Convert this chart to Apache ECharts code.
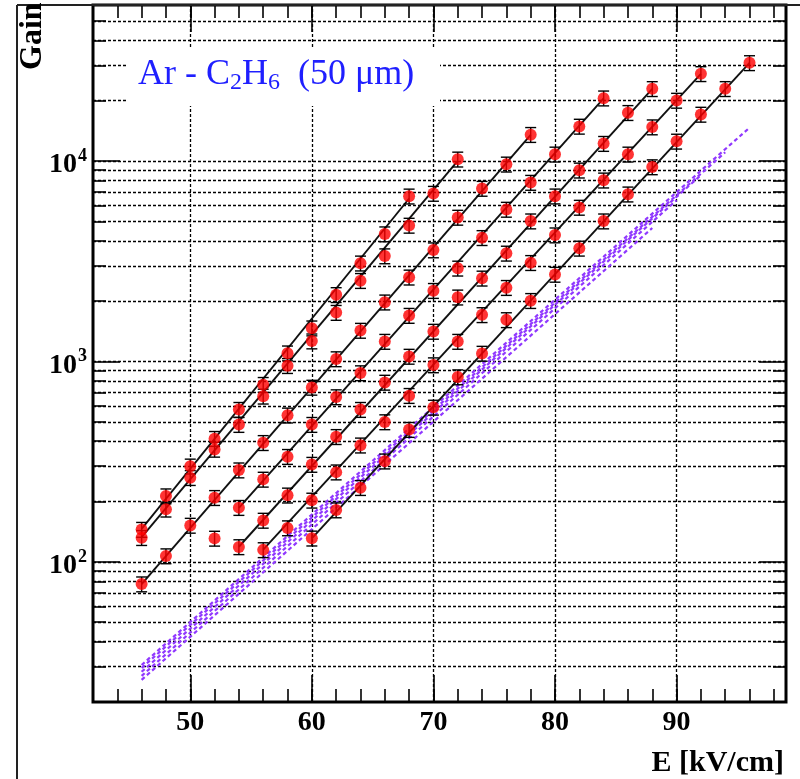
<!DOCTYPE html>
<html>
<head>
<meta charset="utf-8">
<script src="https://cdn.jsdelivr.net/npm/echarts@6/dist/echarts.min.js"></script>
<style>
  html, body { margin: 0; padding: 0; background: #fff; }
  #chart { width: 800px; height: 779px; }
</style>
</head>
<body>
<div id="chart"></div>
<script>
// Gas gain versus drift field, Ar - C2H6, 50 um gap.
// Seven measurement runs (points with error bars) with exponential fits,
// and simulated gain curves (dashed).

const runA_E    = [46, 48, 50, 52, 54, 56, 58, 60, 62, 64, 66, 68];
const runA_gain = [145, 213, 300, 412, 575, 766, 1100, 1466, 2150, 3090, 4320, 6670];

const runB_E    = [46, 48, 50, 52, 54, 56, 58, 60, 62, 64, 66, 68, 70, 72];
const runB_gain = [132, 183, 263, 364, 484, 670, 952, 1263, 1753, 2529, 3357, 4771, 6883, 10200];

const runC_E    = [46, 48, 50, 52, 54, 56, 58, 60, 62, 64, 66, 68, 70, 72, 74, 76, 78];
const runC_gain = [77.5, 107, 152, 209, 287, 393, 539, 742, 1029, 1427, 1975, 2630, 3595, 5229, 7291, 9629, 13530];

const runD_E    = [52, 54, 56, 58, 60, 62, 64, 66, 68, 70, 72, 74, 76, 78, 80, 82, 84];
const runD_gain = [131, 186.5, 258, 335, 484, 665, 876, 1257, 1694, 2255, 2915, 4140, 5731, 7808, 10800, 14880, 20580];

const runE_E    = [54, 56, 58, 60, 62, 64, 66, 68, 70, 72, 74, 76, 78, 80, 82, 84, 86, 88];
const runE_gain = [118.8, 161, 215, 306, 421, 575, 786, 1059, 1411, 2091, 2599, 3462, 5012, 6674, 8990, 12210, 17410, 22920];

const runF_E    = [56, 58, 60, 62, 64, 66, 68, 70, 72, 74, 76, 78, 80, 82, 84, 86, 88, 90, 92];
const runF_gain = [114.8, 147.6, 202.8, 280.4, 382, 499, 675, 960, 1257, 1708, 2334, 3108, 4269, 5864, 8017, 10800, 14765, 20045, 27220];

const runG_E    = [60, 62, 64, 66, 68, 70, 72, 74, 76, 78, 80, 82, 84, 86, 88, 90, 92, 94, 96];
const runG_gain = [131.2, 181.4, 234.5, 318, 457, 590, 836, 1096, 1612, 2009, 2716, 3666, 5012, 6829, 9336, 12531, 17073, 22922, 30870];

// exponential fit of each run: gain at the first and last fitted field
const fitA_E = [46, 68], fitA_gain = [146, 6500];
const fitB_E = [46, 72], fitB_gain = [133, 10000];
const fitC_E = [46, 78], fitC_gain = [77.5, 13500];
const fitD_E = [54, 84], fitD_gain = [186, 20500];
const fitE_E = [54, 88], fitE_gain = [119, 22900];
const fitF_E = [56, 92], fitF_gain = [115, 27200];
const fitG_E = [60, 96], fitG_gain = [131, 30900];

// simulated gain curves
const sim1_E = [46, 96], sim1_gain = [30.6, 14660];
const sim2_E = [46, 94], sim2_gain = [29.6, 11050];
const sim3_E = [46, 92], sim3_gain = [28.3, 8490];
const sim4_E = [46, 90], sim4_gain = [27.0, 6370];
const sim5_E = [46, 88], sim5_gain = [25.8, 4630];

// relative uncertainty of each gain point
const GAIN_ERR = 0.085;

// axis ticks
const xMajorTicks = [50, 60, 70, 80, 90];
const yMajorTicks = [100, 1000, 10000];
const yMinorTicks = [30, 40, 50, 60, 70, 80, 90,
                     200, 300, 400, 500, 600, 700, 800, 900,
                     2000, 3000, 4000, 5000, 6000, 7000, 8000, 9000,
                     20000, 30000, 40000, 50000];

const SERIF = '"Liberation Serif", "DejaVu Serif", serif';

const runs = [
  [runA_E, runA_gain, fitA_E, fitA_gain],
  [runB_E, runB_gain, fitB_E, fitB_gain],
  [runC_E, runC_gain, fitC_E, fitC_gain],
  [runD_E, runD_gain, fitD_E, fitD_gain],
  [runE_E, runE_gain, fitE_E, fitE_gain],
  [runF_E, runF_gain, fitF_E, fitF_gain],
  [runG_E, runG_gain, fitG_E, fitG_gain]
];
const sims = [
  [sim1_E, sim1_gain], [sim2_E, sim2_gain], [sim3_E, sim3_gain],
  [sim4_E, sim4_gain], [sim5_E, sim5_gain]
];

const zip = (a, b) => a.map((v, i) => [v, b[i]]);

function renderErrorBar(params, api) {
  const x = api.value(0);
  const lo = api.coord([x, api.value(2)]);
  const hi = api.coord([x, api.value(3)]);
  const cap = 5.5;
  const style = { stroke: '#000', lineWidth: 1.4 };
  return {
    type: 'group',
    children: [
      { type: 'line', shape: { x1: lo[0], y1: lo[1], x2: hi[0], y2: hi[1] }, style: style },
      { type: 'line', shape: { x1: lo[0] - cap, y1: lo[1], x2: lo[0] + cap, y2: lo[1] }, style: style },
      { type: 'line', shape: { x1: hi[0] - cap, y1: hi[1], x2: hi[0] + cap, y2: hi[1] }, style: style }
    ]
  };
}

const gridLineStyle = { color: '#000', width: 1.3, type: [3, 2] };

const series = [];

// dotted grid
series.push({
  type: 'line',
  data: [],
  silent: true,
  z: 1,
  markLine: {
    silent: true,
    z: 1,
    animation: false,
    symbol: ['none', 'none'],
    label: { show: false },
    lineStyle: gridLineStyle,
    data: yMinorTicks.concat(yMajorTicks).map(v => ({ yAxis: v }))
      .concat(xMajorTicks.map(v => ({ xAxis: v })))
  }
});

sims.forEach(([e, g]) => {
  series.push({
    type: 'line',
    data: zip(e, g),
    symbol: 'none',
    silent: true,
    z: 2,
    lineStyle: { color: '#9038ff', width: 2.2, type: [4, 3] }
  });
});

runs.forEach(([e, g, fe, fg]) => {
  series.push({
    type: 'line',
    data: zip(fe, fg),
    symbol: 'none',
    silent: true,
    z: 3,
    lineStyle: { color: '#111', width: 1.9 }
  });
  series.push({
    type: 'custom',
    renderItem: renderErrorBar,
    data: e.map((v, i) => [v, g[i], g[i] * (1 - GAIN_ERR), g[i] * (1 + GAIN_ERR)]),
    encode: { x: 0, y: [1, 2, 3] },
    silent: true,
    z: 4
  });
  series.push({
    type: 'scatter',
    data: zip(e, g),
    symbol: 'circle',
    symbolSize: 12,
    silent: true,
    z: 5,
    itemStyle: { color: '#ff0000' }
  });
});

const tickStyle = { color: '#000', width: 1.6 };
const xBase = { type: 'value', min: 42, max: 99, axisLine: { show: false }, splitLine: { show: false } };
const yBase = { type: 'log', logBase: 10, min: 20, max: 60000, axisLine: { show: false }, splitLine: { show: false } };

const option = {
  animation: false,
  backgroundColor: '#fff',
  grid: {
    left: 93, right: 14, top: 5, bottom: 77,
    show: true, borderColor: '#000', borderWidth: 3, backgroundColor: '#fff'
  },
  xAxis: [
    Object.assign({}, xBase, { position: 'bottom', interval: 2,
      axisTick: { inside: true, length: 13, lineStyle: tickStyle },
      axisLabel: { show: false } }),
    Object.assign({}, xBase, { position: 'bottom',
      axisTick: { inside: true, length: 27, lineStyle: tickStyle, customValues: xMajorTicks },
      axisLabel: { customValues: xMajorTicks, margin: 7, color: '#000',
        fontFamily: SERIF, fontWeight: 'bold', fontSize: 28 } }),
    Object.assign({}, xBase, { position: 'top', interval: 2,
      axisTick: { inside: true, length: 13, lineStyle: tickStyle },
      axisLabel: { show: false } }),
    Object.assign({}, xBase, { position: 'top',
      axisTick: { inside: true, length: 27, lineStyle: tickStyle, customValues: xMajorTicks },
      axisLabel: { show: false } })
  ],
  yAxis: [
    Object.assign({}, yBase, { position: 'left',
      axisTick: { inside: true, length: 27, lineStyle: tickStyle, customValues: yMajorTicks },
      axisLabel: {
        customValues: yMajorTicks, margin: 6,
        formatter: v => '{b|10}{s|' + Math.round(Math.log10(v)) + '}',
        rich: {
          b: { fontFamily: SERIF, fontWeight: 'bold', fontSize: 28, lineHeight: 32, padding: [8, 0, 0, 0], color: '#000' },
          s: { fontFamily: SERIF, fontWeight: 'bold', fontSize: 18, lineHeight: 18, verticalAlign: 'top', padding: [2, 0, 0, 1], color: '#000' }
        }
      } }),
    Object.assign({}, yBase, { position: 'left',
      axisTick: { inside: true, length: 13, lineStyle: tickStyle, customValues: yMinorTicks },
      axisLabel: { show: false } }),
    Object.assign({}, yBase, { position: 'right',
      axisTick: { inside: true, length: 27, lineStyle: tickStyle, customValues: yMajorTicks },
      axisLabel: { show: false } }),
    Object.assign({}, yBase, { position: 'right',
      axisTick: { inside: true, length: 13, lineStyle: tickStyle, customValues: yMinorTicks },
      axisLabel: { show: false } })
  ],
  graphic: [
    // page frame
    { type: 'line', silent: true, z: 100, shape: { x1: 17, y1: 5, x2: 17, y2: 779 },
      style: { stroke: '#222', lineWidth: 2 } },
    { type: 'line', silent: true, z: 100, shape: { x1: 17, y1: 5, x2: 800, y2: 5 },
      style: { stroke: '#222', lineWidth: 2 } },
    // label box
    { type: 'rect', silent: true, z: 100, shape: { x: 128, y: 48, width: 312, height: 58 },
      style: { fill: '#fff' } },
    { type: 'text', silent: true, z: 101, x: 138, y: 55,
      style: {
        text: '{m|Ar - C}{u|2}{m|H}{u|6}{m|  (50 μm)}',
        rich: {
          m: { fontFamily: SERIF, fontSize: 36, lineHeight: 40, fill: '#1f1fff' },
          u: { fontFamily: SERIF, fontSize: 24, lineHeight: 24, verticalAlign: 'bottom', padding: [16, 0, 0, 0], fill: '#1f1fff' }
        }
      } },
    // axis titles
    { type: 'text', silent: true, z: 101, x: 49, y: 70, rotation: Math.PI / 2,
      style: { text: 'Gain', font: 'bold 32px ' + SERIF, fill: '#000', align: 'left', verticalAlign: 'bottom' } },
    { type: 'text', silent: true, z: 101, x: 784, y: 778,
      style: { text: 'E [kV/cm]', font: 'bold 30px ' + SERIF, fill: '#000', align: 'right', verticalAlign: 'bottom' } }
  ],
  series: series.map(s => Object.assign({ xAxisIndex: 0, yAxisIndex: 0, animation: false }, s))
};

const chart = echarts.init(document.getElementById('chart'), null, { renderer: 'canvas' });
chart.setOption(option);
</script>
</body>
</html>
